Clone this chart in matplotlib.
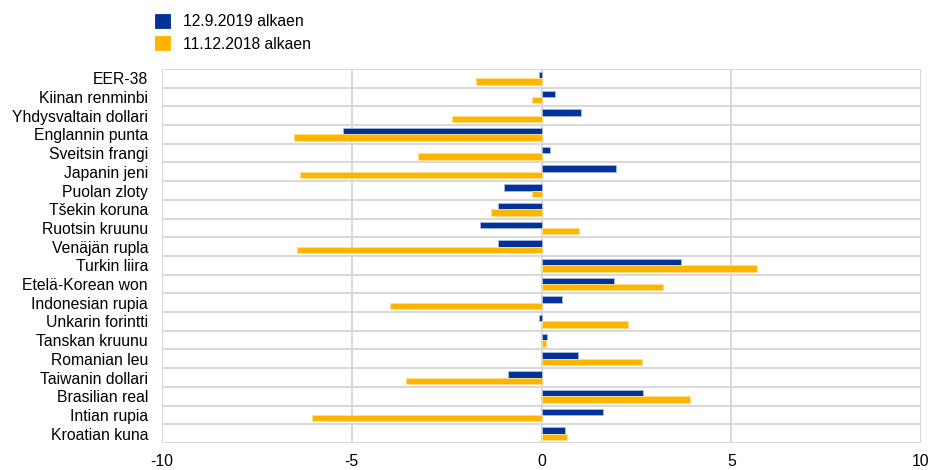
import matplotlib
matplotlib.use("Agg")
import matplotlib.pyplot as plt
import numpy as np

plt.rcParams['font.family'] = ['Liberation Sans', 'DejaVu Sans']

categories = ["EER-38", "Kiinan renminbi", "Yhdysvaltain dollari", "Englannin punta",
              "Sveitsin frangi", "Japanin jeni", "Puolan zloty", "Tšekin koruna",
              "Ruotsin kruunu", "Venäjän rupla", "Turkin liira", "Etelä-Korean won",
              "Indonesian rupia", "Unkarin forintti", "Tanskan kruunu", "Romanian leu",
              "Taiwanin dollari", "Brasilian real", "Intian rupia", "Kroatian kuna"]
series_2019 = [-0.07, 0.35, 1.03, -5.23, 0.22, 1.96, -0.99, -1.15, -1.61, -1.15,
               3.67, 1.91, 0.55, -0.06, 0.15, 0.95, -0.88, 2.68, 1.61, 0.63]
series_2018 = [-1.72, -0.24, -2.37, -6.51, -3.26, -6.36, -0.26, -1.32, 0.99, -6.43,
               5.67, 3.2, -3.99, 2.27, 0.12, 2.64, -3.58, 3.91, -6.06, 0.68]
labels = ["12.9.2019 alkaen", "11.12.2018 alkaen"]
xticks = [-10, -5, 0, 5, 10]

blue = "#003299"
orange = "#FFB400"
fs = 11.3

fig = plt.figure(figsize=(9.31, 4.70), dpi=100)
ax = fig.add_axes([162/931, 1 - 443/470, (921-162)/931, (443-69)/470])

n = len(categories)
y = np.arange(n)
h = 0.34
ax.barh(y - h/2, series_2019, height=h, color=blue, edgecolor="#a9b9dd", linewidth=0.6,
        label=labels[0], zorder=3)
ax.barh(y + h/2, series_2018, height=h, color=orange, edgecolor="#ffe08a", linewidth=0.6,
        label=labels[1], zorder=3)

ax.set_ylim(n - 0.5, -0.5)
ax.set_xlim(-10, 10)
ax.set_xticks(xticks)
ax.set_xticklabels([str(t) for t in xticks])
ax.set_yticks(y)
ax.set_yticklabels(categories)
ax.tick_params(axis='both', length=0, labelsize=fs, colors="#000000")
ax.tick_params(axis='y', pad=10)
ax.tick_params(axis='x', pad=8)

grid_c = "#d9d9d9"
for b in np.arange(-0.5, n, 1.0):
    ax.axhline(b, color=grid_c, linewidth=1.5, zorder=1)
for xv in xticks:
    ax.axvline(xv, color=grid_c, linewidth=1.5, zorder=1)
for s in ax.spines.values():
    s.set_visible(False)

handles, lbls = ax.get_legend_handles_labels()
leg = fig.legend(handles, lbls, loc="upper left", bbox_to_anchor=(141/931, 1 - 0/470),
                 frameon=False, fontsize=fs, handlelength=0.95, handleheight=0.95,
                 handletextpad=0.8, labelspacing=0.45)
for p in leg.get_patches():
    p.set_edgecolor(p.get_facecolor())

fig.savefig("out.png", dpi=100)
